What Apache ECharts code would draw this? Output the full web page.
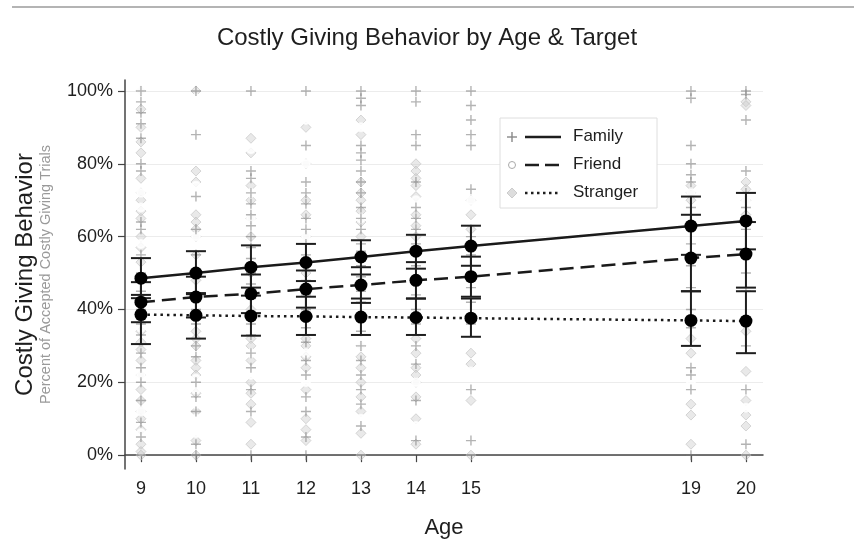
<!DOCTYPE html>
<html>
<head>
<meta charset="utf-8">
<script src="https://cdn.jsdelivr.net/npm/echarts@6/dist/echarts.min.js"></script>
<style>
  html, body { margin: 0; padding: 0; background: #ffffff; }
  #chart { width: 854px; height: 556px; }
</style>
</head>
<body>
<div id="chart"></div>
<script>
// ---------- DATA ----------
const ages = [9, 10, 11, 12, 13, 14, 15, 19, 20];
const yTicks = [0, 20, 40, 60, 80, 100];

// raw observations [age, percent]
const familyObs = [
  [9,100],[9,97],[9,94],[9,91],[9,87],[9,80],[9,78],[9,64],[9,62],[9,55],[9,50],[9,45],[9,40],[9,36],[9,33],[9,28],[9,24],[9,20],[9,15],[9,9],[9,5],
  [10,100],[10,88],[10,71],[10,62],[10,55],[10,50],[10,44],[10,40],[10,36],[10,30],[10,27],[10,20],[10,16],[10,12],[10,3],[10,0],
  [11,100],[11,78],[11,76],[11,72],[11,69],[11,66],[11,63],[11,60],[11,57],[11,54],[11,50],[11,47],[11,43],[11,36],[11,33],[11,28],[11,24],[11,18],[11,12],[11,0],
  [12,100],[12,85],[12,75],[12,72],[12,69],[12,65],[12,62],[12,58],[12,55],[12,52],[12,48],[12,44],[12,40],[12,35],[12,31],[12,26],[12,22],[12,16],[12,12],[12,5],[12,0],
  [13,100],[13,98],[13,96],[13,85],[13,83],[13,81],[13,78],[13,75],[13,72],[13,68],[13,65],[13,62],[13,58],[13,56],[13,52],[13,49],[13,45],[13,42],[13,38],[13,34],[13,30],[13,26],[13,22],[13,18],[13,14],[13,8],
  [14,100],[14,97],[14,88],[14,85],[14,75],[14,68],[14,65],[14,62],[14,58],[14,55],[14,52],[14,48],[14,44],[14,40],[14,36],[14,30],[14,25],[14,15],[14,4],
  [15,100],[15,96],[15,92],[15,88],[15,85],[15,73],[15,60],[15,55],[15,50],[15,46],[15,42],[15,36],[15,18],[15,4],
  [19,100],[19,98],[19,85],[19,80],[19,77],[19,75],[19,68],[19,64],[19,58],[19,52],[19,46],[19,40],[19,35],[19,24],[19,22],[19,18],[19,0],
  [20,100],[20,99],[20,92],[20,78],[20,72],[20,68],[20,62],[20,56],[20,50],[20,45],[20,38],[20,30],[20,18],[20,3]
];
const friendObs = [
  [9,100],[9,92],[9,72],[9,68],[9,58],[9,42],[9,35],[9,22],[9,12],[9,6],
  [10,98],[10,95],[10,92],[10,86],[10,74],[10,60],[10,38],[10,21],[10,18],[10,14],[10,10],[10,8],[10,6],
  [11,84],[11,72],[11,65],[11,56],[11,28],[11,22],[11,6],
  [12,97],[12,94],[12,92],[12,80],[12,60],[12,28],[12,20],[12,14],
  [13,95],[13,90],[13,65],[13,45],[13,30],[13,10],
  [14,92],[14,70],[14,42],[14,20],[14,8],
  [15,88],[15,70],[15,23],[15,5],
  [19,92],[19,72],[19,50],[19,20],
  [20,83],[20,70],[20,13],[20,5]
];
const strangerObs = [
  [9,100],[9,95],[9,90],[9,86],[9,83],[9,76],[9,72],[9,70],[9,67],[9,65],[9,60],[9,57],[9,53],[9,48],[9,43],[9,38],[9,34],[9,31],[9,29],[9,26],[9,22],[9,18],[9,15],[9,12],[9,10],[9,7],[9,3],[9,1],[9,0],
  [10,100],[10,78],[10,75],[10,66],[10,64],[10,62],[10,60],[10,55],[10,48],[10,34],[10,32],[10,30],[10,26],[10,24],[10,22],[10,17],[10,12],[10,4],[10,0],
  [11,87],[11,83],[11,74],[11,70],[11,65],[11,60],[11,50],[11,40],[11,32],[11,30],[11,26],[11,20],[11,17],[11,14],[11,9],[11,3],
  [12,90],[12,80],[12,70],[12,66],[12,60],[12,50],[12,32],[12,30],[12,27],[12,24],[12,18],[12,10],[12,7],[12,4],
  [13,92],[13,88],[13,75],[13,72],[13,70],[13,67],[13,64],[13,60],[13,30],[13,27],[13,24],[13,20],[13,16],[13,12],[13,6],[13,0],
  [14,80],[14,78],[14,76],[14,74],[14,71],[14,66],[14,63],[14,60],[14,32],[14,28],[14,24],[14,22],[14,20],[14,16],[14,10],[14,3],
  [15,70],[15,66],[15,62],[15,28],[15,25],[15,15],[15,0],
  [19,74],[19,72],[19,70],[19,32],[19,28],[19,14],[19,11],[19,3],
  [20,97],[20,96],[20,75],[20,73],[20,70],[20,66],[20,34],[20,23],[20,15],[20,11],[20,8],[20,0]
];

// predicted means and confidence limits by age
const familyMean   = [48.6, 50.0, 51.6, 52.9, 54.4, 56.0, 57.4, 62.9, 64.3];
const familyLow    = [43.1, 44.2, 46.0, 47.8, 49.6, 51.2, 52.0, 55.0, 56.5];
const familyHigh   = [54.1, 56.0, 57.6, 58.0, 59.0, 60.5, 63.0, 71.0, 72.0];
const friendMean   = [42.0, 43.4, 44.3, 45.6, 46.7, 48.0, 49.0, 54.1, 55.2];
const friendLow    = [36.5, 37.8, 39.0, 40.5, 41.8, 43.0, 43.5, 45.0, 46.0];
const friendHigh   = [47.5, 49.0, 49.6, 50.7, 51.6, 53.0, 54.5, 66.0, 64.0];
const strangerMean = [38.6, 38.4, 38.2, 38.1, 37.9, 37.8, 37.6, 37.0, 36.8];
const strangerLow  = [30.5, 32.0, 32.8, 33.0, 33.0, 33.0, 32.5, 30.0, 28.0];
const strangerHigh = [44.0, 44.5, 43.8, 43.5, 43.0, 43.0, 43.0, 45.0, 45.0];

// ---------- CHART ----------
const FONT = "'Liberation Sans', Helvetica, Arial, sans-serif";
const PLUS = 'path://M4.3,0H5.7V4.3H10V5.7H5.7V10H4.3V5.7H0V4.3H4.3Z';

function ciData(low, high) {
  return ages.map((a, i) => [a, low[i], high[i]]);
}
function meanData(m) {
  return ages.map((a, i) => [a, m[i]]);
}
function errorBar(params, api) {
  const x = api.value(0);
  const lo = api.coord([x, api.value(1)]);
  const hi = api.coord([x, api.value(2)]);
  const w = 10;
  const st = { stroke: '#1e1e1e', lineWidth: 2 };
  return {
    type: 'group',
    children: [
      { type: 'line', shape: { x1: lo[0], y1: lo[1], x2: hi[0], y2: hi[1] }, style: st },
      { type: 'line', shape: { x1: lo[0] - w, y1: lo[1], x2: lo[0] + w, y2: lo[1] }, style: st },
      { type: 'line', shape: { x1: hi[0] - w, y1: hi[1], x2: hi[0] + w, y2: hi[1] }, style: st }
    ]
  };
}

const chart = echarts.init(document.getElementById('chart'), null, { renderer: 'canvas' });

const legendItems = [
  { name: 'Family', y: 137 },
  { name: 'Friend', y: 165 },
  { name: 'Stranger', y: 193 }
];
const legendGraphics = [
  { type: 'rect', shape: { x: 500, y: 118, width: 157, height: 90 },
    style: { fill: '#ffffff', stroke: '#dedede', lineWidth: 1 }, z: 50 },
  { type: 'line', shape: { x1: 507, y1: 137, x2: 517, y2: 137 }, style: { stroke: '#888', lineWidth: 1.4 }, z: 51 },
  { type: 'line', shape: { x1: 512, y1: 132, x2: 512, y2: 142 }, style: { stroke: '#888', lineWidth: 1.4 }, z: 51 },
  { type: 'circle', shape: { cx: 512, cy: 165, r: 3.5 }, style: { fill: 'none', stroke: '#aaa', lineWidth: 1 }, z: 51 },
  { type: 'polygon', shape: { points: [[512, 188], [517, 193], [512, 198], [507, 193]] },
    style: { fill: '#ddd', stroke: '#ccc', lineWidth: 1 }, z: 51 },
  { type: 'line', shape: { x1: 525, y1: 137, x2: 561, y2: 137 }, style: { stroke: '#1e1e1e', lineWidth: 2.5 }, z: 51 },
  { type: 'line', shape: { x1: 525, y1: 165, x2: 561, y2: 165 }, style: { stroke: '#1e1e1e', lineWidth: 2.5, lineDash: [14, 6] }, z: 51 },
  { type: 'line', shape: { x1: 525, y1: 193, x2: 561, y2: 193 }, style: { stroke: '#1e1e1e', lineWidth: 2.5, lineDash: [2.5, 3.5] }, z: 51 }
].concat(legendItems.map(it => ({
  type: 'text', x: 573, y: it.y - 9,
  style: { text: it.name, fontSize: 17, fontFamily: FONT, fill: '#1e1e1e' }, z: 51
})));

const option = {
  backgroundColor: '#ffffff',
  animation: false,
  title: {
    text: 'Costly Giving Behavior by Age & Target',
    left: 'center',
    top: 21,
    textStyle: { fontSize: 24, fontWeight: 'normal', fontFamily: FONT, color: '#1e1e1e' }
  },
  graphic: [
    { type: 'rect', shape: { x: 12, y: 6, width: 842, height: 2 }, style: { fill: '#b4b4b4' } }
  ].concat(legendGraphics),
  grid: { left: 125, right: 91, top: 80, bottom: 87, containLabel: false, outerBoundsMode: 'none' },
  xAxis: {
    type: 'value',
    min: 8.71,
    max: 20.31,
    name: 'Age',
    nameLocation: 'middle',
    nameGap: 48,
    nameTextStyle: { fontSize: 22, fontFamily: FONT, color: '#1e1e1e' },
    axisLine: { show: true, lineStyle: { color: '#444', width: 1.5 } },
    axisTick: { show: true, length: 7, customValues: ages, lineStyle: { color: '#444', width: 1.2 } },
    axisLabel: { customValues: ages, fontSize: 18, fontFamily: FONT, color: '#1e1e1e', margin: 11 },
    splitLine: { show: false }
  },
  yAxis: {
    type: 'value',
    min: -3.8,
    max: 103,
    name: '{a|Costly Giving Behavior}\n{b|Percent of Accepted Costly Giving Trials}',
    nameLocation: 'middle',
    nameRotate: 90,
    nameGap: 70,
    nameTextStyle: {
      fontFamily: FONT,
      rich: {
        a: { fontSize: 24, color: '#1e1e1e', fontFamily: FONT, lineHeight: 24, align: 'center' },
        b: { fontSize: 14.5, color: '#9a9a9a', fontFamily: FONT, lineHeight: 18, align: 'center' }
      }
    },
    axisLine: { show: true, lineStyle: { color: '#444', width: 1.5 } },
    axisTick: { show: true, length: 7, customValues: yTicks, lineStyle: { color: '#444', width: 1.2 } },
    axisLabel: { customValues: yTicks, formatter: v => v + '%', fontSize: 18, fontFamily: FONT, color: '#1e1e1e', margin: 12 },
    splitLine: { show: false }
  },
  series: [
    {
      name: 'Stranger obs', type: 'scatter', data: strangerObs, z: 2,
      symbol: 'diamond', symbolSize: 10,
      itemStyle: { color: 'rgba(205,205,205,0.55)', borderColor: 'rgba(185,185,185,0.7)', borderWidth: 1 },
      markLine: {
        silent: true, symbol: ['none', 'none'], label: { show: false },
        lineStyle: { color: '#ececec', width: 1, type: 'solid' },
        data: yTicks.map(v => ({ yAxis: v })),
        z: 0
      }
    },
    {
      name: 'Friend obs', type: 'scatter', data: friendObs, z: 3,
      symbol: 'emptyCircle', symbolSize: 8,
      itemStyle: { color: '#ffffff', borderColor: 'rgba(150,150,150,0.75)', borderWidth: 1.1 }
    },
    {
      name: 'Family obs', type: 'scatter', data: familyObs, z: 4,
      symbol: PLUS, symbolSize: 10,
      itemStyle: { color: 'rgba(120,120,120,0.7)' }
    },
    { name: 'Family CI', type: 'custom', data: ciData(familyLow, familyHigh), renderItem: errorBar, z: 10 },
    { name: 'Friend CI', type: 'custom', data: ciData(friendLow, friendHigh), renderItem: errorBar, z: 10 },
    { name: 'Stranger CI', type: 'custom', data: ciData(strangerLow, strangerHigh), renderItem: errorBar, z: 10 },
    {
      name: 'Family', type: 'line', data: meanData(familyMean), z: 12,
      symbol: 'circle', symbolSize: 13, showSymbol: true,
      lineStyle: { color: '#1a1a1a', width: 2.5, type: 'solid' },
      itemStyle: { color: '#000000' }
    },
    {
      name: 'Friend', type: 'line', data: meanData(friendMean), z: 12,
      symbol: 'circle', symbolSize: 13, showSymbol: true,
      lineStyle: { color: '#1a1a1a', width: 2.5, type: [14, 7] },
      itemStyle: { color: '#000000' }
    },
    {
      name: 'Stranger', type: 'line', data: meanData(strangerMean), z: 12,
      symbol: 'circle', symbolSize: 13, showSymbol: true,
      lineStyle: { color: '#1a1a1a', width: 2.5, type: [2.5, 4] },
      itemStyle: { color: '#000000' }
    }
  ]
};
chart.setOption(option);
</script>
</body>
</html>
